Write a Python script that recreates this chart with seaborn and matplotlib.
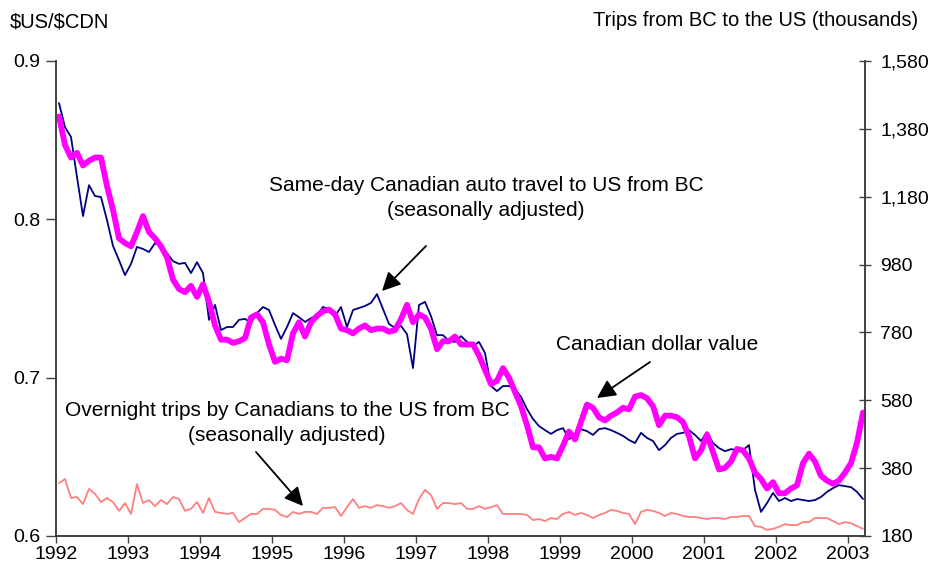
import numpy as np
import pandas as pd
import matplotlib
matplotlib.use("Agg")
import matplotlib.pyplot as plt
import matplotlib.ticker as mticker
import seaborn as sns

# monthly, Jan 1992 - Mar 2003
cad_value = [
    0.865, 0.847, 0.839, 0.842, 0.834, 0.837, 0.839, 0.839, 0.821, 0.806, 0.788, 0.785,
    0.783, 0.792, 0.802, 0.792, 0.788, 0.783, 0.776, 0.762, 0.756, 0.754, 0.758, 0.751,
    0.759, 0.748, 0.733, 0.724, 0.724, 0.722, 0.723, 0.725, 0.738, 0.740, 0.735, 0.721,
    0.710, 0.712, 0.711, 0.728, 0.735, 0.726, 0.735, 0.739, 0.742, 0.743, 0.740, 0.731,
    0.730, 0.728, 0.731, 0.733, 0.730, 0.731, 0.731, 0.729, 0.730, 0.737, 0.746, 0.735,
    0.740, 0.738, 0.731, 0.718, 0.723, 0.723, 0.726, 0.721, 0.721, 0.721, 0.714, 0.705,
    0.696, 0.698, 0.706, 0.700, 0.691, 0.682, 0.670, 0.656, 0.656, 0.649, 0.650, 0.649,
    0.657, 0.666, 0.661, 0.672, 0.683, 0.681, 0.675, 0.673, 0.676, 0.678, 0.681, 0.680,
    0.688, 0.689, 0.687, 0.682, 0.670, 0.676, 0.676, 0.675, 0.672, 0.663, 0.649, 0.654,
    0.664, 0.653, 0.642, 0.643, 0.647, 0.655, 0.654, 0.649, 0.640, 0.636, 0.630, 0.634,
    0.627, 0.627, 0.630, 0.632, 0.646, 0.652, 0.647, 0.638, 0.635, 0.633, 0.635, 0.640,
    0.646, 0.659, 0.678,
]
same_day = [
    1456, 1385, 1356, 1238, 1123, 1214, 1182, 1179, 1111, 1035, 993, 949,
    982, 1032, 1026, 1017, 1043, 1035, 1014, 990, 982, 985, 955, 987,
    955, 817, 861, 787, 796, 796, 817, 820, 808, 837, 855, 846,
    802, 761, 796, 837, 825, 811, 822, 831, 855, 849, 828, 855,
    796, 846, 852, 858, 867, 893, 849, 805, 793, 799, 775, 675,
    861, 870, 828, 772, 772, 755, 752, 769, 752, 740, 752, 719,
    622, 607, 622, 622, 613, 590, 554, 525, 504, 492, 481, 492,
    498, 466, 475, 495, 489, 478, 495, 498, 492, 484, 475, 463,
    454, 484, 469, 460, 433, 448, 469, 481, 484, 492, 478, 460,
    486, 454, 439, 430, 436, 433, 433, 448, 316, 251, 277, 307,
    283, 292, 283, 289, 286, 283, 286, 295, 310, 321, 330, 327,
    324, 310, 289,
]
overnight = [
    336, 348, 292, 295, 274, 319, 304, 280, 292, 280, 254, 277,
    245, 333, 277, 286, 268, 286, 274, 295, 289, 254, 260, 280,
    248, 292, 251, 248, 245, 248, 221, 233, 245, 245, 260, 260,
    257, 242, 236, 251, 245, 251, 251, 245, 263, 263, 265, 239,
    265, 289, 263, 268, 263, 271, 268, 263, 268, 277, 257, 245,
    289, 316, 301, 260, 277, 277, 274, 277, 260, 260, 268, 260,
    265, 271, 245, 245, 245, 245, 242, 227, 230, 224, 233, 230,
    245, 251, 242, 248, 242, 233, 242, 248, 257, 254, 248, 245,
    215, 251, 257, 254, 248, 239, 248, 245, 239, 236, 236, 233,
    230, 233, 233, 230, 236, 236, 239, 239, 209, 207, 198, 201,
    207, 215, 212, 212, 221, 221, 233, 233, 233, 224, 215, 221,
    218, 209, 201,
]
years = list(range(1992, 2004))
left_ticks = [0.6, 0.7, 0.8, 0.9]
right_ticks = list(range(180, 1581, 200))

df = pd.DataFrame({
    "t": 1992 + (np.arange(len(cad_value)) + 0.5) / 12,
    "cad": cad_value,
    "same_day": same_day,
    "overnight": overnight,
})

sns.set_style("white")
plt.rcParams["font.family"] = ["Liberation Sans", "DejaVu Sans"]
plt.rcParams["text.color"] = "black"
plt.rcParams["xtick.color"] = "black"
plt.rcParams["ytick.color"] = "black"

W, H = 935, 575
fig = plt.figure(figsize=(W / 100, H / 100), dpi=100)
ax = fig.add_axes([56 / W, 1 - 536 / H, (865 - 56) / W, (536 - 61) / H])
ax2 = ax.twinx()

sns.lineplot(data=df, x="t", y="same_day", ax=ax2, color="#000080", lw=1.3)
sns.lineplot(data=df, x="t", y="overnight", ax=ax2, color="#FF8080", lw=1.3)
sns.lineplot(data=df, x="t", y="cad", ax=ax, color="#FF00FF", lw=4.2)
# magenta line on top
ax.set_zorder(ax2.get_zorder() + 1)
ax.patch.set_visible(False)

ax.set_xlim(1992, 1992 + 809 / 72)
ax.set_ylim(0.6, 0.9)
ax2.set_ylim(180, 1580)
ax.set_xticks(years)
ax.set_xticklabels([str(y) for y in years])
ax.set_yticks(left_ticks)
ax.set_yticklabels([f"{v:.1f}" for v in left_ticks])
ax2.set_yticks(right_ticks)
ax2.yaxis.set_major_formatter(mticker.FuncFormatter(lambda v, p: f"{int(v):,}"))
axis_col = "#404040"
for a in (ax, ax2):
    a.set_xlabel("")
    a.set_ylabel("")
    a.spines["top"].set_visible(False)
    for s in a.spines.values():
        s.set_color(axis_col)
        s.set_linewidth(1.2)
ax.tick_params(axis="y", labelsize=14, length=7, width=1, color=axis_col,
               labelcolor="black", direction="out", pad=4, left=True)
ax.tick_params(axis="x", labelsize=14, length=5, width=1, color=axis_col,
               labelcolor="black", direction="out", pad=2, bottom=True)
ax2.tick_params(axis="y", labelsize=14, length=8, width=1, color=axis_col,
                labelcolor="black", direction="inout", pad=7, right=True)

fs = 15
fig.text(10 / W, 1 - 22 / H, r"\$US/\$CDN", fontsize=14.5, va="center", ha="left")
fig.text(918 / W, 1 - 20 / H, "Trips from BC to the US (thousands)", fontsize=14.5,
         va="center", ha="right")

arrow = dict(arrowstyle="-|>", color="black", lw=1.3, mutation_scale=28,
             shrinkA=0, shrinkB=0)
ax.annotate("", xy=(382, H - 291), xytext=(426, H - 246),
            xycoords="figure pixels", textcoords="figure pixels", arrowprops=arrow)
fig.text(486 / W, 1 - 198 / H,
         "Same-day Canadian auto travel to US from BC\n(seasonally adjusted)",
         fontsize=fs, ha="center", va="center", linespacing=1.4)
ax.annotate("", xy=(597, H - 398), xytext=(650, H - 362),
            xycoords="figure pixels", textcoords="figure pixels", arrowprops=arrow)
fig.text(657 / W, 1 - 345 / H, "Canadian dollar value", fontsize=fs,
         ha="center", va="center")
ax.annotate("", xy=(303, H - 506), xytext=(256, H - 452),
            xycoords="figure pixels", textcoords="figure pixels", arrowprops=arrow)
fig.text(287 / W, 1 - 423 / H,
         "Overnight trips by Canadians to the US from BC\n(seasonally adjusted)",
         fontsize=fs, ha="center", va="center", linespacing=1.4)

fig.savefig("out.png", dpi=100, facecolor="white")
